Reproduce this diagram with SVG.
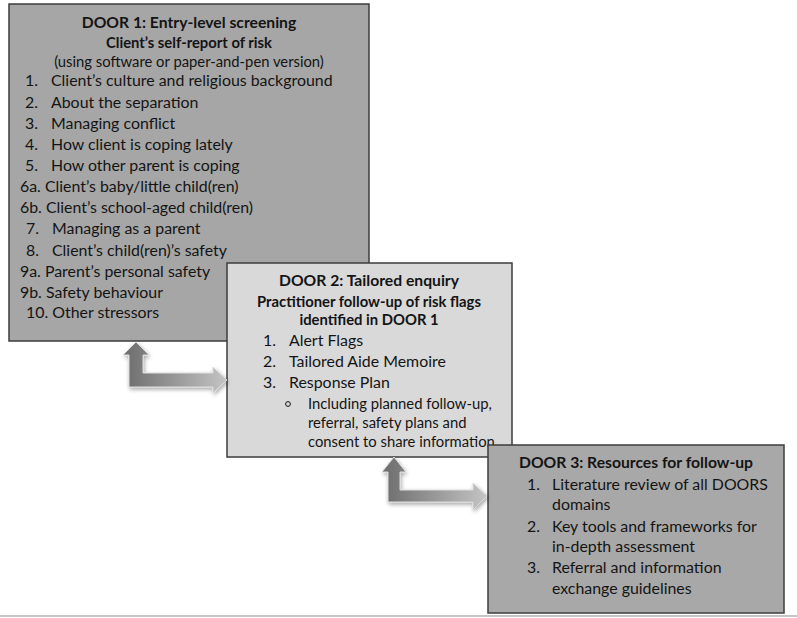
<svg xmlns="http://www.w3.org/2000/svg" width="797" height="618" viewBox="0 0 797 618">
<style>
text{font-family:Lato,"Liberation Sans",sans-serif;fill:#141414}
.t{font-weight:bold;font-size:15.7px;text-anchor:middle}
.s{font-weight:bold;font-size:14.8px;text-anchor:middle}
.p{font-size:14.8px;text-anchor:middle}
.i{font-size:15.9px}
.b{font-size:14.8px}
.box{stroke:#3d3d3d;stroke-width:1.5}
.arrow{stroke:#dcdcdc;stroke-width:1;filter:url(#sh)}
</style>
<defs>
<linearGradient id="g" x1="0" y1="0" x2="1" y2="0">
<stop offset="0" stop-color="#6c6c6c"/>
<stop offset="1" stop-color="#c4c4c4"/>
</linearGradient>
<filter id="sh" x="-20%" y="-20%" width="150%" height="150%">
<feGaussianBlur in="SourceAlpha" stdDeviation="2"/>
<feOffset dx="1" dy="2"/>
<feComponentTransfer><feFuncA type="linear" slope="0.35"/></feComponentTransfer>
<feMerge><feMergeNode/><feMergeNode in="SourceGraphic"/></feMerge>
</filter>
</defs>
<rect x="0" y="0" width="797" height="618" fill="#ffffff"/>
<line x1="0" y1="616" x2="797" y2="616" stroke="#c4c4c4" stroke-width="2"/>
<g id="door1">
<rect class="box" x="9" y="4" width="360" height="337" fill="#a6a6a6"/>
<text class="t" x="189" y="28">DOOR 1: Entry-level screening</text>
<text class="s" x="189" y="48">Client’s self-report of risk</text>
<text class="p" x="189" y="67">(using software or paper-and-pen version)</text>
<text class="i" x="25" y="86">1.</text><text class="i" x="51" y="86">Client’s culture and religious background</text>
<text class="i" x="25" y="108">2.</text><text class="i" x="51" y="108">About the separation</text>
<text class="i" x="25" y="129">3.</text><text class="i" x="51" y="129">Managing conflict</text>
<text class="i" x="25" y="150">4.</text><text class="i" x="51" y="150">How client is coping lately</text>
<text class="i" x="25" y="171">5.</text><text class="i" x="51" y="171">How other parent is coping</text>
<text class="i" x="20" y="192">6a. Client’s baby/little child(ren)</text>
<text class="i" x="20" y="213">6b. Client’s school-aged child(ren)</text>
<text class="i" x="26" y="234">7.</text><text class="i" x="52" y="234">Managing as a parent</text>
<text class="i" x="26" y="256">8.</text><text class="i" x="52" y="256">Client’s child(ren)’s safety</text>
<text class="i" x="20" y="277">9a. Parent’s personal safety</text>
<text class="i" x="20" y="298">9b. Safety behaviour</text>
<text class="i" x="26" y="318">10. Other stressors</text>
</g>
<g id="door2">
<rect class="box" x="227" y="263" width="285" height="194" fill="#d9d9d9"/>
<text class="t" x="369" y="286">DOOR 2: Tailored enquiry</text>
<text class="s" x="369" y="307">Practitioner follow-up of risk flags</text>
<text class="s" x="369" y="325">identified in DOOR 1</text>
<text class="i" x="263" y="346">1.</text><text class="i" x="289" y="346">Alert Flags</text>
<text class="i" x="263" y="367">2.</text><text class="i" x="289" y="367">Tailored Aide Memoire</text>
<text class="i" x="263" y="388">3.</text><text class="i" x="289" y="388">Response Plan</text>
<circle cx="288" cy="404" r="2.4" fill="none" stroke="#141414" stroke-width="1"/>
<text class="b" x="308" y="409">Including planned follow-up,</text>
<text class="b" x="308" y="428">referral, safety plans and</text>
<text class="b" x="308" y="447">consent to share information</text>
</g>
<g id="door3">
<rect class="box" x="488" y="445" width="296" height="168" fill="#a8a8a8"/>
<text class="t" x="636" y="468">DOOR 3: Resources for follow-up</text>
<text class="i" x="527" y="490">1.</text><text class="i" x="552" y="490">Literature review of all DOORS</text>
<text class="i" x="552" y="510">domains</text>
<text class="i" x="527" y="532">2.</text><text class="i" x="552" y="532">Key tools and frameworks for</text>
<text class="i" x="552" y="552">in-depth assessment</text>
<text class="i" x="527" y="573">3.</text><text class="i" x="552" y="573">Referral and information</text>
<text class="i" x="552" y="594">exchange guidelines</text>
</g>
<g id="connectors">
<path class="arrow" fill="url(#g)" d="M136,342 L149,355 L143,355 L143,373 L213,373 L213,367 L227,380 L213,393 L213,387 L129,387 L129,355 L123,355 Z"/>
<path class="arrow" fill="url(#g)" d="M394,457 L406,472 L400,472 L400,490 L473,490 L473,483 L487,496 L473,510 L473,502 L388,502 L388,472 L382,472 Z"/>
</g>
</svg>
